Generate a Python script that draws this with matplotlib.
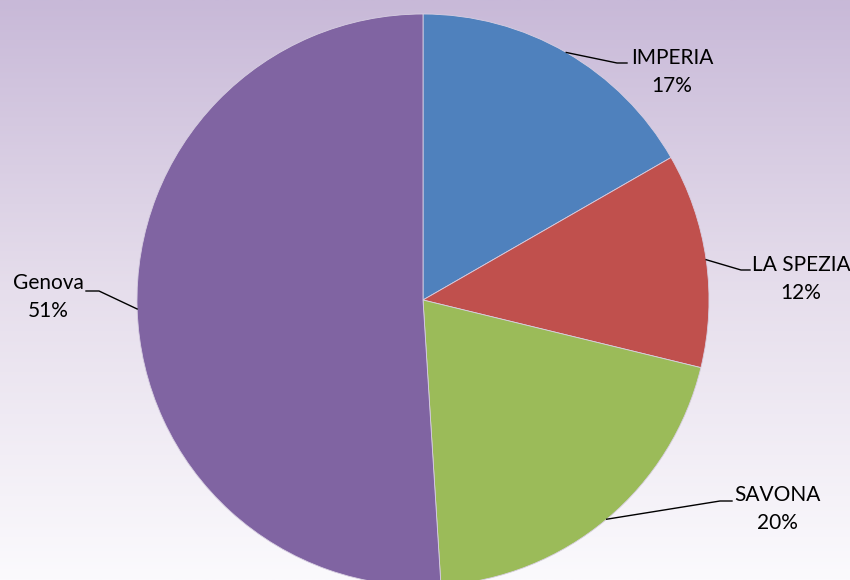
import numpy as np
import matplotlib
matplotlib.use("Agg")
import matplotlib.pyplot as plt
from matplotlib.colors import LinearSegmentedColormap

categories = ["IMPERIA", "LA SPEZIA", "SAVONA", "Genova"]
values = [16.7, 12.1, 20.2, 51.0]
colors = ["#4F81BD", "#C0504D", "#9BBB59", "#8064A2"]

W, H = 850, 580
fig = plt.figure(figsize=(W / 100, H / 100), dpi=100)
ax = fig.add_axes([0, 0, 1, 1])

# background gradient
cmap = LinearSegmentedColormap.from_list("bg", ["#c8b9d8", "#e6deec", "#fbfafd"])
grad = np.linspace(0, 1, 256).reshape(-1, 1)
ax.imshow(grad, cmap=cmap, extent=(0, W, H, 0), aspect="auto", zorder=0)

cx, cy, R = 423, 300, 286
wedges, _ = ax.pie(values, colors=colors, startangle=-90, counterclock=True,
                   center=(cx, cy), radius=R, frame=True,
                   wedgeprops=dict(linewidth=0.6, edgecolor="#d8cfe2"))
ax.set_xlim(0, W)
ax.set_ylim(H, 0)
ax.set_aspect("equal")
ax.axis("off")
for w in wedges:
    w.set_zorder(2)

font = dict(family=["Lato", "DejaVu Sans"], fontsize=15, color="black")
label_pos = [(672, 72), (801, 279), (777, 509), (48, 297)]
elbow = [((617, 63), (627, 63)), ((741, 270), (750, 270)),
         ((720, 501), (732, 501)), ((99, 291), (86, 291))]

total = sum(values)
cum = 0
for i, (cat, v) in enumerate(zip(categories, values)):
    mid = (cum + v / 2) / total * 2 * np.pi
    cum += v
    ax_x = cx + R * np.sin(mid)
    ax_y = cy - R * np.cos(mid)
    (e1, e2) = elbow[i]
    ax.plot([ax_x, e1[0], e2[0]], [ax_y, e1[1], e2[1]], color="black", lw=1.0, zorder=3)
    tx, ty = label_pos[i]
    ax.text(tx, ty, f"{cat}\n{round(v / total * 100):.0f}%", ha="center", va="center",
            linespacing=1.5, zorder=4, **font)

fig.savefig("out.png", dpi=100)
